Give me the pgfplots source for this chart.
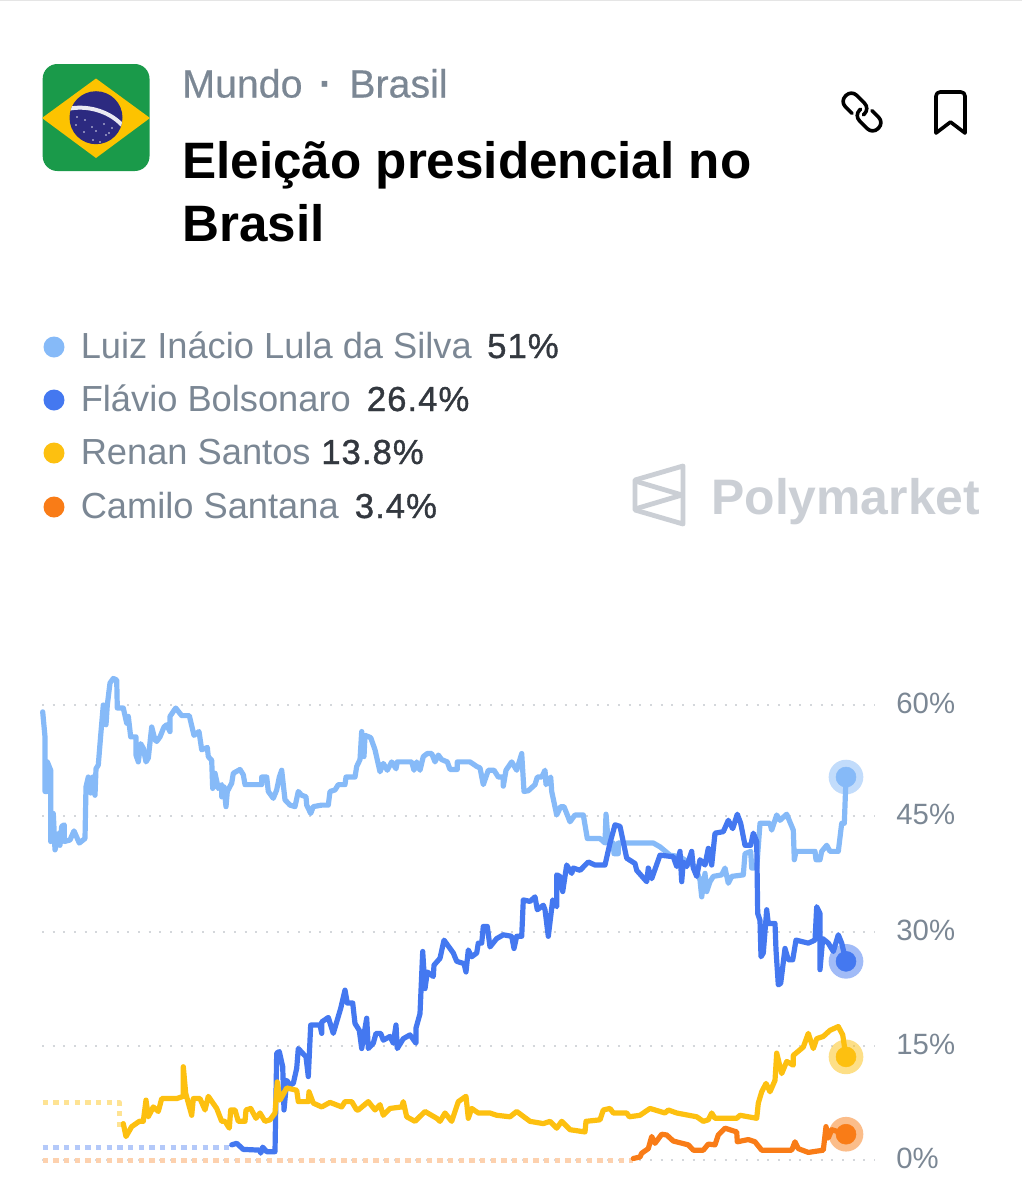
\documentclass[border=0pt]{standalone}
\usepackage{fontspec}
\usepackage{pgfplots}
\usepackage{pgfplotstable}
\pgfplotsset{compat=1.18}
\setmainfont{Liberation Sans}
\definecolor{lula}{HTML}{86BAF8}
\definecolor{flavio}{HTML}{4478F0}
\definecolor{renan}{HTML}{FDC010}
\definecolor{camilo}{HTML}{F97C17}
\definecolor{txtgray}{HTML}{7B8794}
\definecolor{txtdark}{HTML}{33383F}
\definecolor{wmgray}{HTML}{CBCFD5}
\definecolor{gridgray}{HTML}{D4D7DB}
\definecolor{flaggreen}{HTML}{1A9A4A}
\definecolor{flagyellow}{HTML}{FDC300}
\definecolor{flagblue}{HTML}{2C2A80}

% x is the horizontal position along the chart, y is the share in percent
\pgfplotstableread{
x y
42.7 59.1
45 55.8
45 48.6
47.3 48.6
47.3 52.5
50.7 51.4
50.7 42.0
53.3 45.7
55 40.9
59.3 43.1
60 41.5
61.7 44.0
64.3 44.2
64.3 42.0
70 42.2
74 43.4
79.3 41.8
85 42.4
86 49.2
88.3 50.5
90.7 48.4
92.7 50.5
95 48.1
96 51.6
98.3 52.1
100.7 56.0
103.3 60.0
106 57.4
107.3 60.0
110 62.9
113.3 63.5
116.7 63.3
117.3 59.6
123.3 59.6
126.7 57.6
128.3 58.5
130.7 55.8
136 55.8
136 53.4
138.3 52.5
140.7 54.9
143.3 54.3
146 52.5
148.3 53.0
151.7 57.1
155 55.4
156.7 55.2
160 55.8
164 57.1
166.7 57.4
170 56.5
170 58.5
175.7 59.6
181.7 58.6
189.3 58.6
194 56.0
199 56.5
201.7 54.1
207.3 54.4
208.3 53.2
211.7 52.7
212.7 49.0
215 51.0
218.3 49.0
221.7 49.5
221.7 47.9
224 49.2
226 46.6
227.3 48.6
231.7 49.7
233.3 51.0
240 51.5
243.3 50.8
245 49.5
261.7 49.5
261.7 50.5
266.7 50.5
268.3 48.6
273.3 47.7
276.7 48.8
279.3 50.5
281.7 51.4
285 47.5
290 46.8
295 46.6
298.3 48.6
301.7 48.1
306 47.9
306.7 46.8
310.7 45.7
313.3 46.6
321.7 46.8
328.3 46.8
330 48.6
335 48.8
338.3 49.5
345 49.5
346 50.5
355 50.5
356.7 51.9
360 52.8
361.7 56.5
364 53.2
365 56.0
370.7 55.7
375 54.1
380 51.2
383.3 52.3
387.3 51.4
391.7 52.5
396 51.6
397.3 52.5
411.7 52.5
414 51.4
416.7 52.5
420 51.4
423.3 53.2
427.3 53.6
431.7 53.6
435 52.5
438.3 53.4
441.7 52.8
447.3 52.5
450 51.5
457.3 51.5
457.3 52.5
470 52.5
476.7 51.9
480 51.7
483.3 49.5
488.3 51.4
494 51.4
498.3 50.5
503.3 50.5
503.3 49.3
506 51.4
511.7 52.5
516.7 51.4
521.7 53.6
524 48.6
528.3 48.7
535 49.5
537.3 50.5
541.7 50.5
545 51.4
546 49.5
550.7 50.5
551.7 48.6
556.7 45.5
560.7 46.6
564 46.6
570 44.6
575 45.5
583.3 45.5
587.3 42.4
600 42.4
605 41.8
606 45.6
608.3 41.8
613.3 41.8
614 40.4
618.3 40.4
618.3 41.8
653.3 41.8
660 41.3
670 40.2
680 40.0
690 39.1
695 38.7
700 36.9
701.7 34.7
705 37.8
706.7 35.4
710 36.7
713.3 37.4
721.7 37.6
725 38.5
728.3 36.5
731.7 37.4
743.3 37.6
745 40.4
750.7 40.7
751.7 38.5
756.7 38.5
760 44.4
770 44.4
771.7 43.5
776.7 45.5
780 44.8
786.7 45.6
793.3 43.5
794.3 39.6
796 40.7
815 40.7
816 39.6
820 39.6
821.7 40.7
826.7 41.5
830 40.7
838.3 40.7
841.7 44.4
844.3 44.4
846 50.3
}\lula

\pgfplotstableread{
x y
231.7 2.0
236.7 2.2
243.3 1.4
260 1.3
260.7 0.9
262.7 1.7
266.7 1.1
275 1.1
276.7 14.1
279.3 14.3
282.7 12.3
284 6.6
286.7 10.5
290 9.9
293.3 10.1
296.7 12.1
298.3 14.7
306 13.6
308.3 11.0
310.7 17.8
320 17.8
321.7 16.7
321.7 18.2
328.3 18.8
333.3 16.7
340.7 20.0
345 22.4
347.3 20.7
352.7 20.7
355 18.0
359.3 17.1
361.7 14.7
366.7 18.7
368.3 14.7
373.3 15.4
376 16.7
380.7 16.7
383.3 15.8
390 16.3
393.3 15.4
396 17.8
397.3 14.7
403.3 16.0
410 16.5
416 15.4
416 17.4
420 19.3
422.7 27.5
425 22.6
427.3 24.8
433.3 24.2
434 25.7
440 26.6
444 29.0
453.3 27.3
456.7 26.2
464 25.9
466 24.8
468.3 27.7
471.7 26.8
476.7 27.3
478.3 28.6
481.7 28.6
483.3 30.8
487.3 30.8
490 28.1
496.7 29.2
503.3 29.7
511.7 29.5
514 27.9
516.7 29.5
521.7 29.5
523.3 34.3
530 34.1
535 34.7
537.3 33.0
543.3 33.6
545 33.0
548.3 29.5
552.7 34.3
556.7 33.4
556.7 37.6
560 37.4
562.7 35.4
566.7 38.9
571.7 37.8
573.3 38.5
580 38.2
588.3 39.3
595 38.9
605 38.9
610 41.8
615 44.2
620 44.0
626.7 39.8
635 39.1
636.7 38.2
646.7 36.7
648.3 38.5
651.7 37.1
660 40.2
673.3 40.0
676.7 38.7
680 40.7
681.7 36.7
683.3 39.3
686.7 38.7
691.7 40.7
693.3 38.5
696.7 37.4
700 39.6
705 38.9
708.3 41.1
711.7 38.9
715 43.1
723.3 43.3
728.3 44.8
732.7 43.7
737.3 45.6
740.7 44.4
745 41.5
750.7 41.5
753.3 43.1
756.7 42.0
757.7 32.5
760 31.6
761 26.8
763.3 27.3
766.7 33.0
768.3 31.2
775 31.2
776 27.7
778.3 23.1
780.7 23.3
785 27.9
788.3 26.4
792.7 26.4
796 29.0
808.3 28.6
815 29.0
816.7 33.4
820 32.5
820 25.1
822.7 29.2
828.3 28.6
833.3 27.5
838.3 29.7
841.7 28.6
846 26.2
}\flavio

\pgfplotstableread{
x y
123.3 4.8
126 3.1
131.7 4.4
139.3 5.1
143.3 5.1
146 7.9
148.3 5.7
153.3 7.0
158.3 6.4
161.7 8.1
166.7 8.1
176.7 8.1
183.3 8.4
183.3 12.3
185.7 8.8
191.7 5.9
193.3 8.1
200 8.1
205 6.6
208.3 8.4
216.7 6.8
221.7 5.1
225 5.1
229.3 4.2
230.7 6.6
235 6.6
238.3 5.1
245 5.1
246 6.6
250.7 6.8
256 5.5
260 6.2
265 5.1
270 5.3
275 6.2
277.3 10.3
280 7.9
286.7 9.5
296.7 9.2
298.3 7.7
308.3 7.7
309 9.0
313.3 7.5
321.7 7.0
330 7.6
341.7 7.0
345 7.7
351.7 7.7
356.7 6.6
358.3 6.6
368.3 7.7
375 6.6
380 7.3
383.3 5.9
390 6.8
401.7 7.0
403.3 7.7
406.7 5.7
415 5.1
425 6.4
436.7 5.5
440 5.1
445 6.2
451.7 5.1
458.3 7.7
466 8.4
468.3 5.5
471.7 6.8
478.3 6.2
490 6.2
496.7 5.9
510 5.7
516.7 6.4
530 5.1
543.3 4.8
550 5.1
556.7 4.2
561.7 5.1
570 4.0
585 3.7
586 5.1
600 5.3
603.3 6.6
610 6.8
613.3 6.2
626.7 6.2
629.3 5.7
640 5.9
650 6.8
665 6.2
668.3 6.6
676.7 6.2
696.7 5.7
703.3 5.1
708.3 5.3
711.7 6.2
715 5.5
736.7 5.5
740 5.9
756.7 5.5
758.3 7.5
761.7 9.0
766 10.1
770 9.0
775 10.5
776.7 14.1
781.7 11.4
786.7 13.0
793.3 12.5
793.3 13.8
803.3 14.9
808.3 16.7
813.3 14.7
816.7 16.0
823.3 16.3
830 17.1
838.3 17.6
842.7 16.5
846 13.6
}\renan

\pgfplotstableread{
x y
633.3 0.2
640 0.4
641.7 0.9
648.3 1.5
651.7 3.1
655 2.2
661.7 3.4
666.7 3.3
673.3 2.5
688.3 2.0
693.3 1.3
703.3 1.3
708.3 2.1
715 2.0
718.3 3.3
725 4.2
736.7 3.7
737.3 2.4
748.3 2.7
755 2.4
761.7 1.3
791.7 1.3
795 2.4
798.3 1.5
808.3 1.0
823.3 1.3
826 4.4
828.3 2.9
831.7 4.0
846 3.4
}\camilo

\begin{document}
\begin{tikzpicture}
\fill[white] (0,0) rectangle (766.5pt,-900pt);
\draw[black!10,line width=1pt] (0,-0.4pt) -- (766.5pt,-0.4pt);

\begin{axis}[
    at={(31.5pt,-870pt)}, anchor=south west,
    scale only axis, width=624.75pt, height=341.25pt,
    xmin=42, xmax=875, ymin=0, ymax=60,
    clip=false,
    axis line style={draw=none},
    tick style={draw=none},
    xtick=\empty,
    ytick={0,15,30.1,45.3,60},
    yticklabels={0\%,15\%,30\%,45\%,60\%},
    yticklabel pos=right,
    yticklabel style={font=\fontsize{22}{22}\selectfont, text=txtgray, xshift=12.5pt, yshift=1.2pt},
    ymajorgrids=true,
    grid style={gridgray, line width=1.5pt, dash pattern=on 1.5pt off 6.5pt},
    every axis plot/.append style={line join=round, line cap=round},
]
% dotted lead-ins, before the series start trading
\addplot[renan!45, line width=3.6pt, line cap=butt, dash pattern=on 4pt off 4pt] coordinates {(42.7,7.6) (119.3,7.6) (119.3,4.4)};
\addplot[flavio!40, line width=3.6pt, line cap=butt, dash pattern=on 4pt off 4pt] coordinates {(42.7,1.7) (231,1.7)};
\addplot[camilo!35, line width=3.6pt, line cap=butt, dash pattern=on 4pt off 4pt] coordinates {(42.7,-0.1) (633,-0.1)};

\addplot[lula, line width=3.9pt] table {\lula};
\addplot[flavio, line width=3.9pt] table {\flavio};
\addplot[renan, line width=3.9pt] table {\renan};
\addplot[camilo, line width=3.9pt] table {\camilo};

% end markers
\addplot[only marks, mark=*, mark size=13pt, mark options={draw opacity=0, fill=lula, fill opacity=0.5}] coordinates {(846,50.5)};
\addplot[only marks, mark=*, lula, mark size=7.5pt, mark options={fill=lula}] coordinates {(846,50.5)};
\addplot[only marks, mark=*, mark size=13pt, mark options={draw opacity=0, fill=flavio, fill opacity=0.5}] coordinates {(846,26.2)};
\addplot[only marks, mark=*, flavio, mark size=7.5pt, mark options={fill=flavio}] coordinates {(846,26.2)};
\addplot[only marks, mark=*, mark size=13pt, mark options={draw opacity=0, fill=renan, fill opacity=0.5}] coordinates {(846,13.6)};
\addplot[only marks, mark=*, renan, mark size=7.5pt, mark options={fill=renan}] coordinates {(846,13.6)};
\addplot[only marks, mark=*, mark size=13pt, mark options={draw opacity=0, fill=camilo, fill opacity=0.5}] coordinates {(846,3.4)};
\addplot[only marks, mark=*, camilo, mark size=7.5pt, mark options={fill=camilo}] coordinates {(846,3.4)};
\end{axis}

% header, in image pixels from the top left corner
\begin{scope}[x=0.75pt,y=-0.75pt]
  % flag
  \begin{scope}
    \clip[rounded corners=11pt] (42.7,64) rectangle (149.5,171);
    \fill[flaggreen] (42,63) rectangle (150,172);
    \fill[flagyellow] (96,78.5) -- (150,118) -- (96,158) -- (42,118) -- cycle;
    \fill[flagblue] (96,117.7) circle[radius=26.5];
    \clip (96,117.7) circle[radius=26.5];
    \draw[white!90!flagblue,line width=3pt] (68,109) .. controls (85,105) and (108,110) .. (122,125);
    \foreach \sx/\sy in {76/125,85/120,92/127,84/132,96/131,104/124,112/128,106/135,93/140,100/142,109/133,77/117}
      \fill[white!85!flagblue] (\sx,\sy) circle[radius=0.9];
  \end{scope}

  \node[anchor=base west,inner sep=0pt,text=txtgray] at (182,97.5) {\fontsize{29.5}{29.5}\selectfont\addfontfeature{FakeBold=0.4}Mundo};
  \node[anchor=base,inner sep=0pt,text=txtgray] at (326,97.5) {\fontsize{29.5}{29.5}\selectfont\bfseries\textperiodcentered};
  \node[anchor=base west,inner sep=0pt,text=txtgray] at (349,97.5) {\fontsize{29.5}{29.5}\selectfont\addfontfeature{FakeBold=0.4}Brasil};
  \node[anchor=base west,inner sep=0pt,text=black] at (182,178) {\fontsize{38.4}{38.4}\selectfont\bfseries Eleição presidencial no};
  \node[anchor=base west,inner sep=0pt,text=black] at (182,241) {\fontsize{38.4}{38.4}\selectfont\bfseries Brasil};

  % link icon
  \begin{scope}[shift={(862,112)},rotate=-45]
    \draw[black,line width=2.7pt,line cap=round,rounded corners=5.5pt] (-6,8) -- (-23,8) -- (-23,-8) -- (3,-8) -- (3,1);
    \draw[black,line width=2.7pt,line cap=round,rounded corners=5.5pt] (6,-8) -- (23,-8) -- (23,8) -- (-3,8) -- (-3,-1);
  \end{scope}
  % bookmark
  \draw[black,line width=2.7pt,line cap=round,line join=round,rounded corners=3pt] (936,133) -- (936,92) -- (965,92) -- (965,133);
  \draw[black,line width=2.7pt,line cap=round,line join=round] (936,133) -- (950.5,122) -- (965,133);

  % legend
  \foreach \yy/\col/\name/\val/\gap in {347/lula/Luiz Inácio Lula da Silva/51\%/11.5pt,400/flavio/Flávio Bolsonaro/26.4\%/12pt,453/renan/Renan Santos/13.8\%/8pt,507/camilo/Camilo Santana/3.4\%/12pt}{
    \fill[\col] (54,\yy) circle[radius=10.5];
    \node[anchor=base west,inner sep=0pt] at (80.5,\yy+11) {\fontsize{27.2}{27.2}\selectfont\textcolor{txtgray}{\name}\hspace{\gap}\textcolor{txtdark}{\fontsize{26}{26}\selectfont\addfontfeature{FakeBold=1,LetterSpace=3}\val}};
  }

  % watermark
  \draw[wmgray,line width=3.6pt,line join=round] (683,466) -- (635,480) -- (635,510) -- (683,524) -- cycle;
  \draw[wmgray,line width=3.6pt,line join=round] (635,481) -- (682,495) -- (635,509);
  \node[anchor=base west,inner sep=0pt,text=wmgray] at (711,514) {\fontsize{37.4}{37.4}\selectfont\bfseries Polymarket};
\end{scope}

\pgfresetboundingbox
\path[use as bounding box] (0,0) rectangle (766.5pt,-900pt);
\end{tikzpicture}
\end{document}
